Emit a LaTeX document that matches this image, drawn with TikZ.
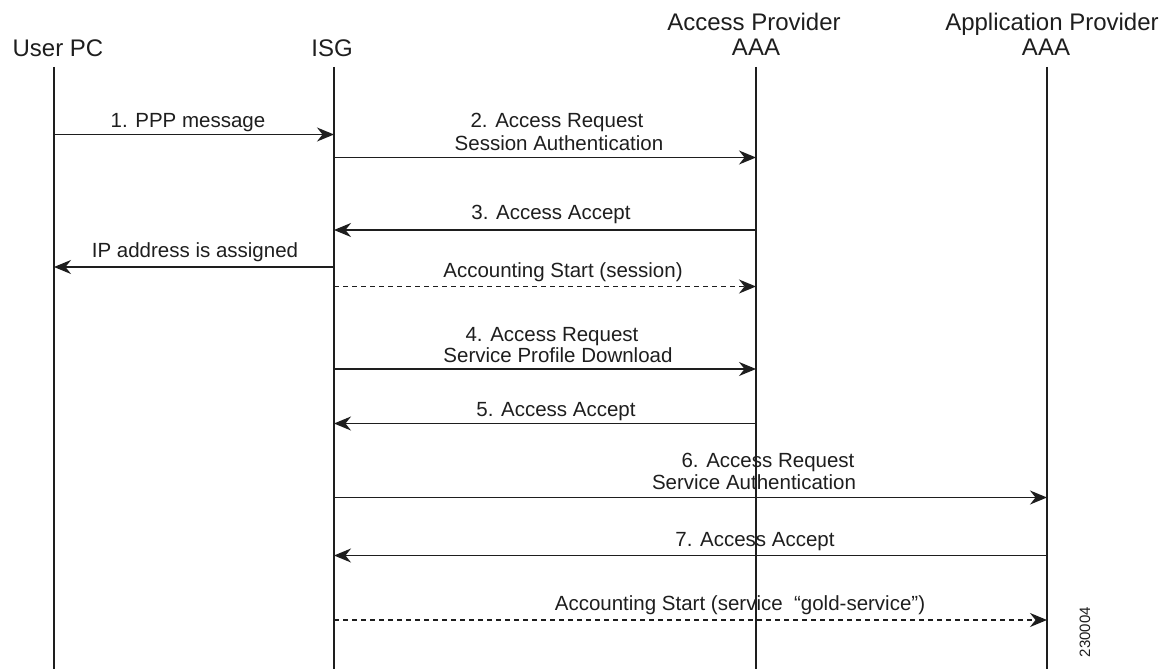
\documentclass[tikz,border=0pt]{standalone}
\usepackage{fontspec}
\setmainfont{Liberation Sans}
\usetikzlibrary{arrows.meta}
\definecolor{ink}{RGB}{30,30,30}
\tikzset{
  x=1pt, y=-1pt,
  lifeline/.style={draw=ink, line width=1.2pt},
  msg/.style={draw=ink, line width=1.4pt, -{Stealth[length=17pt,width=14pt,inset=5.5pt]}},
  asyncmsg/.style={msg, dash pattern=on 5pt off 4pt},
  titletext/.style={anchor=base, inner sep=0pt, text=ink, font=\fontsize{24}{28}\selectfont},
  msgtext/.style={anchor=base, inner sep=0pt, text=ink, font=\fontsize{20.5}{24}\selectfont},
  idtext/.style={inner sep=0pt, text=ink, rotate=90, font=\fontsize{15}{18}\selectfont}
}
\begin{document}
\begin{tikzpicture}
\useasboundingbox (0,0) rectangle (1173,669);

% participant headings
\node[titletext] (tUser) at (58,57) {User PC};
\node[titletext] (tISG) at (332,57) {ISG};
\node[titletext] (tAcc1) at (754,31) {Access Provider};
\node[titletext] (tAcc2) at (756,56) {AAA};
\node[titletext] (tApp1) at (1052,31) {Application Provider};
\node[titletext] (tApp2) at (1046,56) {AAA};

% lifelines
\coordinate (uTop) at (54,67);   \coordinate (uBot) at (54,669);
\coordinate (iTop) at (334,67);  \coordinate (iBot) at (334,669);
\coordinate (aTop) at (756,67);  \coordinate (aBot) at (756,669);
\coordinate (pTop) at (1047,67); \coordinate (pBot) at (1047,669);
\draw[lifeline] (uTop) -- (uBot);
\draw[lifeline] (iTop) -- (iBot);
\draw[lifeline] (aTop) -- (aBot);
\draw[lifeline] (pTop) -- (pBot);

% message end points on the lifelines
\coordinate (u1) at (54,134.5);  \coordinate (i1) at (334,134.5);
\coordinate (i2) at (334,157.5); \coordinate (a2) at (756,157.5);
\coordinate (a3) at (756,230);   \coordinate (i3) at (334,230);
\coordinate (iIP) at (334,267);  \coordinate (uIP) at (54,267);
\coordinate (iS) at (334,286.5); \coordinate (aS) at (756,286.5);
\coordinate (i4) at (334,369);   \coordinate (a4) at (756,369);
\coordinate (a5) at (756,423.5); \coordinate (i5) at (334,423.5);
\coordinate (i6) at (334,497.5); \coordinate (p6) at (1047,497.5);
\coordinate (p7) at (1047,555.5);\coordinate (i7) at (334,555.5);
\coordinate (iG) at (334,620);   \coordinate (pG) at (1047,620);

% messages
\draw[msg] (u1) -- (i1);
\node[msgtext] (l1) at (188,127) {1. PPP message};

\draw[msg] (i2) -- (a2);
\node[msgtext] (l2a) at (557,128) {2. Access Request};
\node[msgtext] (l2b) at (559,150) {Session Authentication};

\draw[msg] (a3) -- (i3);
\node[msgtext] (l3) at (551,219) {3. Access Accept};

\draw[msg] (iIP) -- (uIP);
\node[msgtext] (lIP) at (195,257) {IP address is assigned};

\draw[asyncmsg] (iS) -- (aS);
\node[msgtext] (lS) at (563,277) {Accounting Start (session)};

\draw[msg] (i4) -- (a4);
\node[msgtext] (l4a) at (552,341) {4. Access Request};
\node[msgtext] (l4b) at (558,362) {Service Profile Download};

\draw[msg] (a5) -- (i5);
\node[msgtext] (l5) at (556,416) {5. Access Accept};

\draw[msg] (i6) -- (p6);
\node[msgtext] (l6a) at (768,467.5) {6. Access Request};
\node[msgtext] (l6b) at (754,489) {Service Authentication};

\draw[msg] (p7) -- (i7);
\node[msgtext] (l7) at (755,546) {7. Access Accept};

\draw[asyncmsg] (iG) -- (pG);
\node[msgtext] (lG) at (740,610) {Accounting Start (service\ \ “gold-service”)};

% figure number
\node[idtext] (figid) at (1085,632) {230004};
\end{tikzpicture}
\end{document}
